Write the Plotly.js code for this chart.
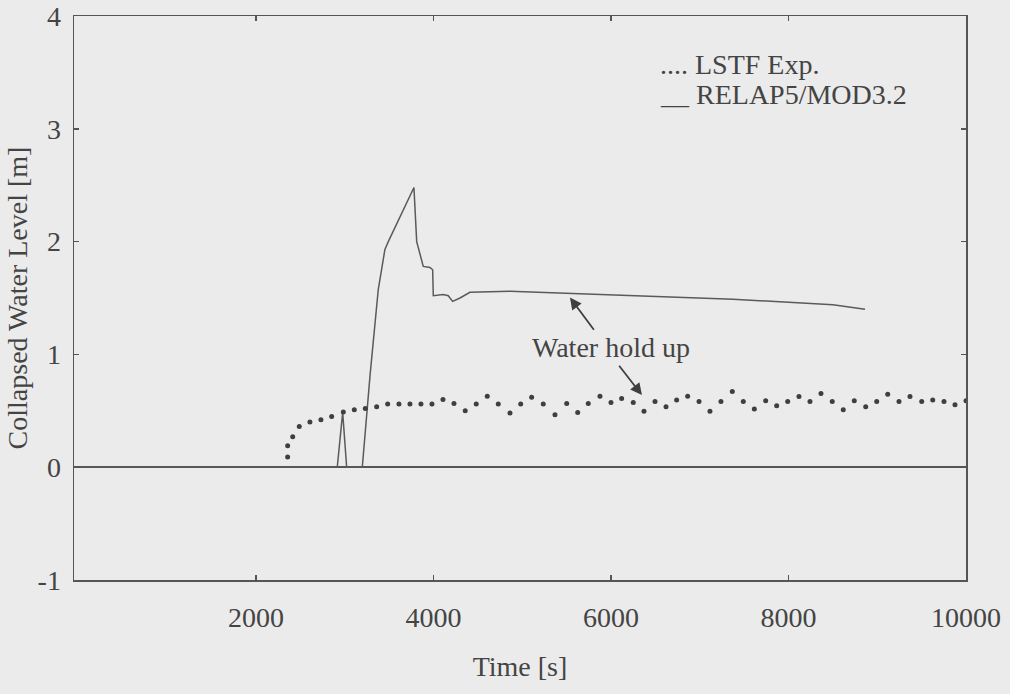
<!DOCTYPE html>
<html>
<head>
<meta charset="utf-8">
<script src="https://cdn.plot.ly/plotly-3.0.1.min.js"></script>
<style>
  html, body { margin: 0; padding: 0; background: #ebebeb; }
  #chart { width: 1010px; height: 694px; }
</style>
</head>
<body>
<div id="chart"></div>
<script>
// LSTF experiment: collapsed water level (dots)
const expTime = [2357, 2357, 2414, 2488, 2608, 2732, 2853, 2984, 3108, 3232, 3360, 3484, 3611, 3735, 3859, 3983,
  4107, 4231, 4358, 4482, 4606, 4730, 4862, 4983, 5106, 5237, 5369, 5501, 5625, 5744, 5876, 6000,
  6120, 6251, 6372, 6496, 6620, 6740, 6864, 6992, 7115, 7239, 7367, 7491, 7615, 7743, 7867, 7991,
  8118, 8242, 8366, 8493, 8617, 8741, 8870, 8994, 9118, 9245, 9369, 9501, 9625, 9752, 9876, 10000];
const expLevel = [0.09, 0.19, 0.27, 0.36, 0.40, 0.42, 0.45, 0.49, 0.51, 0.52, 0.535, 0.56, 0.56, 0.56, 0.56, 0.56,
  0.60, 0.565, 0.50, 0.56, 0.63, 0.56, 0.48, 0.56, 0.62, 0.56, 0.465, 0.565, 0.486, 0.565, 0.63, 0.574,
  0.61, 0.574, 0.495, 0.583, 0.535, 0.595, 0.63, 0.583, 0.495, 0.583, 0.67, 0.583, 0.515, 0.59, 0.545, 0.583,
  0.627, 0.583, 0.654, 0.583, 0.51, 0.59, 0.535, 0.583, 0.647, 0.583, 0.627, 0.583, 0.595, 0.583, 0.553, 0.59];

// RELAP5/MOD3.2 calculation (solid line)
const calcTime = [0, 2916, 2977, 3022, 3198, 3285, 3378, 3453, 3491, 3780, 3811, 3848, 3885, 3961, 3991, 3998,
  4110, 4167, 4216, 4299, 4411, 4862, 5876, 7375, 8501, 8862];
const calcLevel = [0, 0, 0.486, 0, 0, 0.81, 1.575, 1.93, 2.0, 2.48, 2.0, 1.9, 1.78, 1.77, 1.75, 1.52,
  1.53, 1.52, 1.47, 1.50, 1.55, 1.56, 1.53, 1.49, 1.44, 1.40];

const xTicks = [2000, 4000, 6000, 8000, 10000];
const yTicks = [-1, 0, 1, 2, 3, 4];

const ink = '#444444';
const serif = 'Liberation Serif, Times New Roman, serif';

const traces = [
  {
    x: calcTime, y: calcLevel, type: 'scatter', mode: 'lines',
    name: 'RELAP5/MOD3.2',
    line: { color: '#5a5a5a', width: 1.5 },
    hoverinfo: 'x+y'
  },
  {
    x: expTime, y: expLevel, type: 'scatter', mode: 'markers',
    name: 'LSTF Exp.',
    marker: { color: '#3f3f3f', size: 5 },
    hoverinfo: 'x+y'
  }
];

const axisCommon = {
  showgrid: false,
  showline: true,
  linecolor: '#555',
  linewidth: 1.5,
  mirror: 'ticks',
  ticks: 'inside',
  ticklen: 5,
  tickwidth: 1.5,
  tickcolor: '#555',
  tickfont: { family: serif, size: 28, color: ink }
};

const layout = {
  width: 1010,
  height: 694,
  paper_bgcolor: '#ebebeb',
  plot_bgcolor: '#ebebeb',
  showlegend: false,
  margin: { l: 74, r: 44, t: 16, b: 114 },
  font: { family: serif, size: 28, color: ink },
  xaxis: Object.assign({}, axisCommon, {
    range: [-50, 10000],
    tickvals: xTicks,
    ticktext: xTicks.map(String),
    ticklabelstandoff: 12,
    zeroline: false,
    title: { text: 'Time [s]', font: { family: serif, size: 28, color: ink }, standoff: 24 }
  }),
  yaxis: Object.assign({}, axisCommon, {
    range: [-1, 4],
    tickvals: yTicks,
    ticktext: yTicks.map(String),
    ticklabelstandoff: 6,
    zeroline: true,
    zerolinecolor: '#555',
    zerolinewidth: 2,
    title: { text: 'Collapsed Water Level [m]', font: { family: serif, size: 28, color: ink }, standoff: 2 }
  }),
  annotations: [
    { x: 6530, y: 3.57, xref: 'x', yref: 'y', text: '.... LSTF Exp.', showarrow: false,
      xanchor: 'left', yanchor: 'middle', font: { family: serif, size: 28, color: ink } },
    { x: 6530, y: 3.30, xref: 'x', yref: 'y', text: '__ RELAP5/MOD3.2', showarrow: false,
      xanchor: 'left', yanchor: 'middle', font: { family: serif, size: 28, color: ink } },
    { x: 6000, y: 1.06, xref: 'x', yref: 'y', text: 'Water hold up', showarrow: false,
      xanchor: 'center', yanchor: 'middle', font: { family: serif, size: 28, color: ink } },
    { x: 5538, y: 1.504, ax: 5820, ay: 1.205, xref: 'x', yref: 'y', axref: 'x', ayref: 'y',
      text: '', showarrow: true, arrowhead: 2, arrowsize: 1.3, arrowwidth: 1.8, arrowcolor: '#3f3f3f' },
    { x: 6349, y: 0.639, ax: 6079, ay: 0.913, xref: 'x', yref: 'y', axref: 'x', ayref: 'y',
      text: '', showarrow: true, arrowhead: 2, arrowsize: 1.3, arrowwidth: 1.8, arrowcolor: '#3f3f3f' }
  ]
};

Plotly.newPlot('chart', traces, layout, { displayModeBar: false, staticPlot: true });
</script>
</body>
</html>
